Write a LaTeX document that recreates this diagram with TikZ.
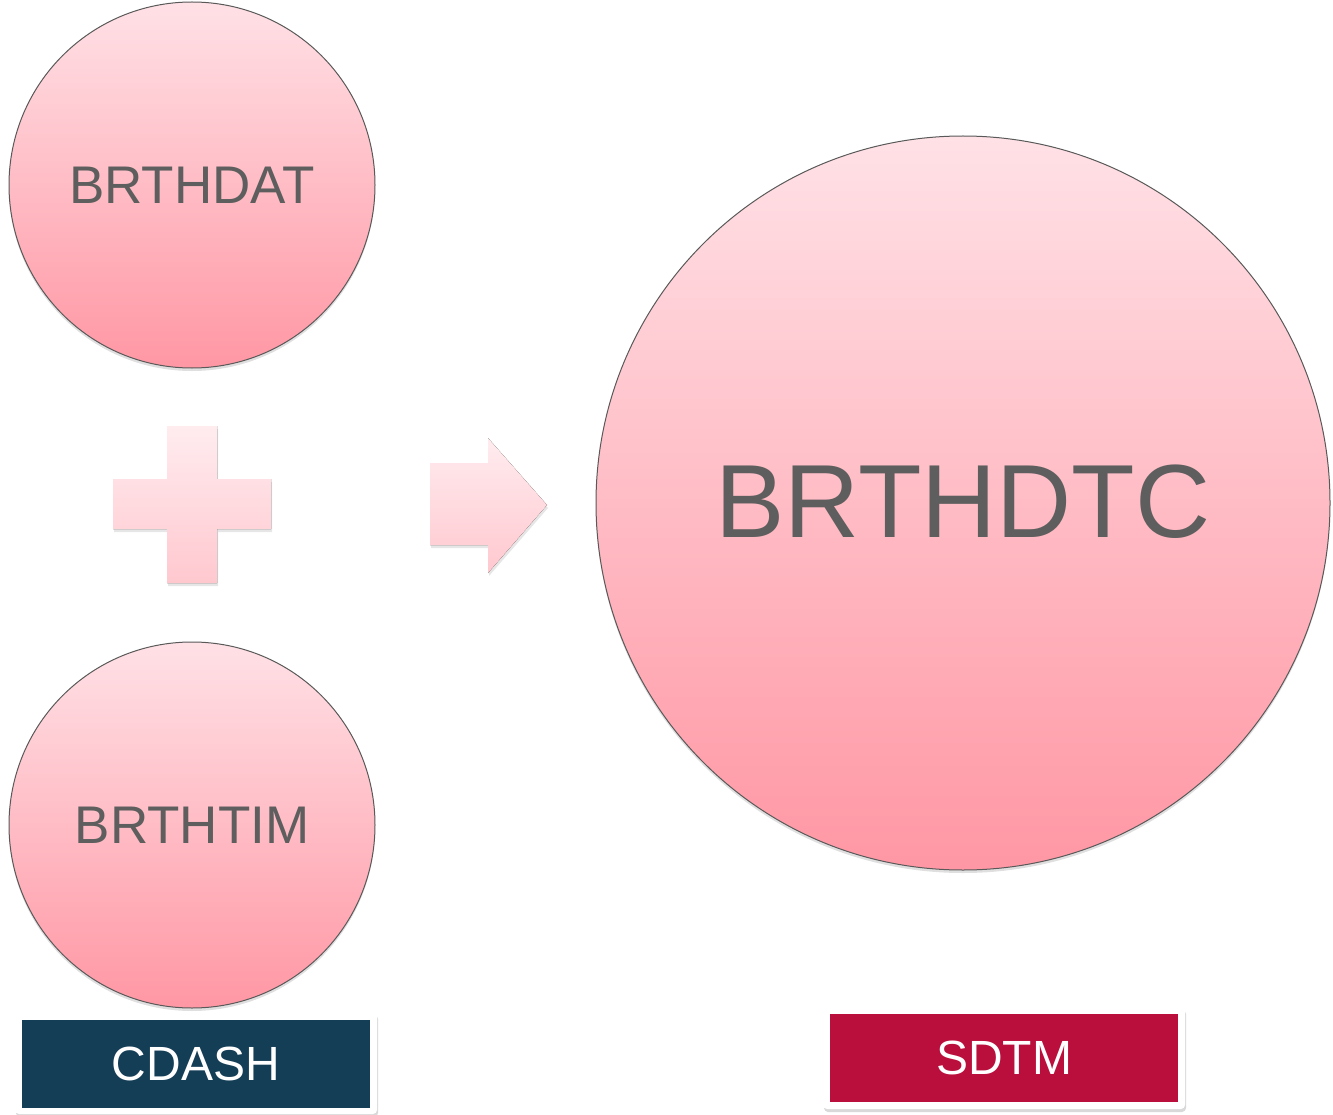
\documentclass[tikz,border=0pt]{standalone}
\usepackage{fontspec}
\setmainfont{Liberation Sans}
\usetikzlibrary{shadows}

\definecolor{pinktop}{HTML}{FFE1E6}
\definecolor{pinkbot}{HTML}{FF97A4}
\definecolor{paletop}{HTML}{FFECEF}
\definecolor{palebot}{HTML}{FFC8CF}
\definecolor{labelgray}{HTML}{5E5E5E}
\definecolor{cdashblue}{HTML}{143D56}
\definecolor{sdtmred}{HTML}{BA0F3C}

\tikzset{
  bubble/.style={circle, draw=black!65, line width=1pt, top color=pinktop, bottom color=pinkbot,
    text=labelgray, inner sep=0pt, drop shadow={opacity=0.25, shadow xshift=0pt, shadow yshift=-3pt}},
  sign/.style={top color=paletop, bottom color=palebot, draw=none,
    drop shadow={opacity=0.2, shadow xshift=1pt, shadow yshift=-3pt}},
  frame/.style={rectangle, rounded corners=4pt, fill=white, draw=none, minimum width=362pt, minimum height=102pt,
    drop shadow={opacity=0.3, shadow xshift=1pt, shadow yshift=-3pt}},
  tag/.style={rectangle, minimum width=348pt, minimum height=88pt, text=white, inner sep=0pt}
}

\begin{document}
\begin{tikzpicture}[x=1pt, y=-1pt]
	\useasboundingbox (0,0) rectangle (1333,1115);

	\node[bubble, minimum size=366pt] (brthdat) at (192,185) {\fontsize{53}{60}\selectfont BRTHDAT};
	\node[bubble, minimum size=366pt] (brthtim) at (192,825) {\fontsize{53}{60}\selectfont BRTHTIM};
	\node[bubble, minimum size=734pt] (brthdtc) at (963,503) {\fontsize{104}{110}\selectfont\raisebox{3pt}{BRTHDTC}};

	% plus sign
	\fill[sign] (167,426) -- (217,426) -- (217,479) -- (271,479) -- (271,529) -- (217,529)
		-- (217,583) -- (167,583) -- (167,529) -- (113,529) -- (113,479) -- (167,479) -- cycle ;

	% arrow
	\fill[sign] (430,463) -- (488,463) -- (488,438) -- (547,505) -- (488,573) -- (488,545)
		-- (430,545) -- cycle ;

	\node[frame] (cdashframe) at (196,1063) {};
	\node[tag, fill=cdashblue] (cdash) at (196,1064) {\fontsize{48}{60}\selectfont CDASH};

	\node[frame] (sdtmframe) at (1004,1058) {};
	\node[tag, fill=sdtmred] (sdtm) at (1004,1058) {\fontsize{48}{60}\selectfont SDTM};

\end{tikzpicture}
\end{document}
